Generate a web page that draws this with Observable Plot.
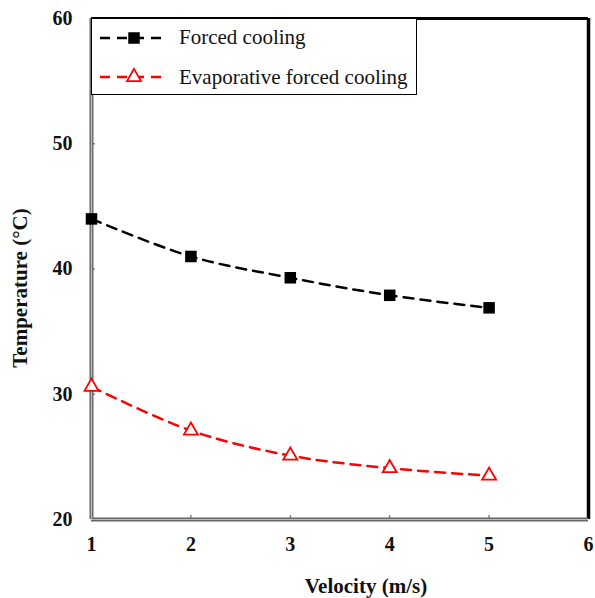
<!DOCTYPE html>
<html>
<head>
<meta charset="utf-8">
<script src="https://cdn.jsdelivr.net/npm/d3@7"></script>
<script src="https://cdn.jsdelivr.net/npm/@observablehq/plot@0.6"></script>
<style>
  html, body { margin: 0; padding: 0; background: #fff; }
  #chart { position: relative; width: 595px; height: 598px; }
  .legend {
    position: absolute; left: 91px; top: 18px; width: 326px; height: 77px;
    border: 1.5px solid #000; background: #fff; box-sizing: border-box;
    font-family: "Liberation Serif", "Times New Roman", serif; font-size: 21px; color: #111;
  }
  .legend .row { position: absolute; left: 0; height: 30px; display: flex; align-items: center; }
  .legend .row svg { margin-left: 8px; margin-right: 13px; }
</style>
</head>
<body>
<div id="chart"></div>
<script>
// Air velocity (m/s) and measured temperature (°C) for the two cooling modes
const velocity = [1, 2, 3, 4, 5];
const forcedCooling = [44.0, 41.0, 39.3, 37.9, 36.9];
const evaporativeForcedCooling = [30.6, 27.1, 25.1, 24.1, 23.5];

const seriesNames = ["Forced cooling", "Evaporative forced cooling"];
const seriesColors = ["#000000", "#ff0000"];
const seriesSymbols = ["square", "triangle"];

const xTicks = [1, 2, 3, 4, 5, 6];
const yTicks = [20, 30, 40, 50, 60];

const forcedRows = velocity.map((v, i) => ({v, t: forcedCooling[i]}));
const evapRows = velocity.map((v, i) => ({v, t: evaporativeForcedCooling[i]}));

const serif = "'Liberation Serif', 'Times New Roman', serif";

const chart = Plot.plot({
  width: 595,
  height: 598,
  marginLeft: 91,
  marginRight: 7,
  marginTop: 18,
  marginBottom: 79,
  style: {fontFamily: serif, fontSize: "20px", background: "#fff", color: "#111", overflow: "visible"},
  x: {domain: [1, 6]},
  y: {domain: [20, 60]},
  marks: [
    // inward tick marks and bold tick labels
    Plot.axisX(xTicks, {tickSize: -4, stroke: "#888", strokeWidth: 1.5, tickPadding: 21, fontSize: 20, fontWeight: "bold", label: null, tickFormat: d => d}),
    Plot.axisY(yTicks, {tickSize: -4, stroke: "#888", strokeWidth: 1.5, tickPadding: 23, fontSize: 20, fontWeight: "bold", label: null, tickFormat: d => d}),
    // plot area border: grey double-edged axes on left/bottom, black on top/right
    Plot.ruleY([60], {stroke: "#000", strokeWidth: 3}),
    Plot.ruleX([6], {stroke: "#000", strokeWidth: 3.5}),
    Plot.ruleX([1], {stroke: "#666", strokeWidth: 4}),
    Plot.ruleY([20], {stroke: "#666", strokeWidth: 4}),
    Plot.ruleX([1], {stroke: "#bbb", strokeWidth: 1.2}),
    Plot.ruleY([20], {stroke: "#bbb", strokeWidth: 1.2}),
    // smoothed dashed series lines
    Plot.line(forcedRows, {x: "v", y: "t", stroke: seriesColors[0], strokeWidth: 2.5, strokeDasharray: "10,7", curve: "catmull-rom"}),
    Plot.line(evapRows, {x: "v", y: "t", stroke: seriesColors[1], strokeWidth: 2.5, strokeDasharray: "10,7", curve: "catmull-rom"}),
    Plot.dot(forcedRows, {x: "v", y: "t", symbol: seriesSymbols[0], r: 6.5, fill: seriesColors[0], stroke: "none"}),
    Plot.dot(evapRows, {x: "v", y: "t", symbol: seriesSymbols[1], r: 5.2, fill: "#fff", stroke: seriesColors[1], strokeWidth: 1.8}),
    // axis titles
    Plot.text(["Velocity (m/s)"], {frameAnchor: "bottom", textAnchor: "middle", lineAnchor: "middle", dx: 26, dy: 67, text: d => d, fontSize: 21, fontWeight: "bold", fill: "#111"}),
    Plot.text(["Temperature (°C)"], {frameAnchor: "left", textAnchor: "middle", lineAnchor: "middle", rotate: -90, dx: -71, dy: 19, text: d => d, fontSize: 21, fontWeight: "bold", fill: "#111"})
  ]
});

const container = document.getElementById("chart");
container.appendChild(chart);

// legend box in the upper-left corner of the plot area
const legend = document.createElement("div");
legend.className = "legend";
const symbolPaths = {
  square: d3.symbol(d3.symbolSquare, 6.5 * 6.5 * Math.PI)(),
  triangle: d3.symbol(d3.symbolTriangle, 5.2 * 5.2 * Math.PI)()
};
seriesNames.forEach((name, i) => {
  const row = document.createElement("div");
  row.className = "row";
  row.style.top = (i === 0 ? 3.5 : 43) + "px";
  const filled = seriesSymbols[i] === "square";
  row.innerHTML =
    `<svg width="66" height="20" viewBox="0 0 66 20">
       <line x1="0" y1="10" x2="66" y2="10" stroke="${seriesColors[i]}" stroke-width="2.5" stroke-dasharray="10,7"/>
       <path d="${symbolPaths[seriesSymbols[i]]}" transform="translate(34,10)"
             fill="${filled ? seriesColors[i] : "#fff"}" stroke="${filled ? "none" : seriesColors[i]}" stroke-width="1.8"/>
     </svg><span>${name}</span>`;
  legend.appendChild(row);
});
container.appendChild(legend);
</script>
</body>
</html>
